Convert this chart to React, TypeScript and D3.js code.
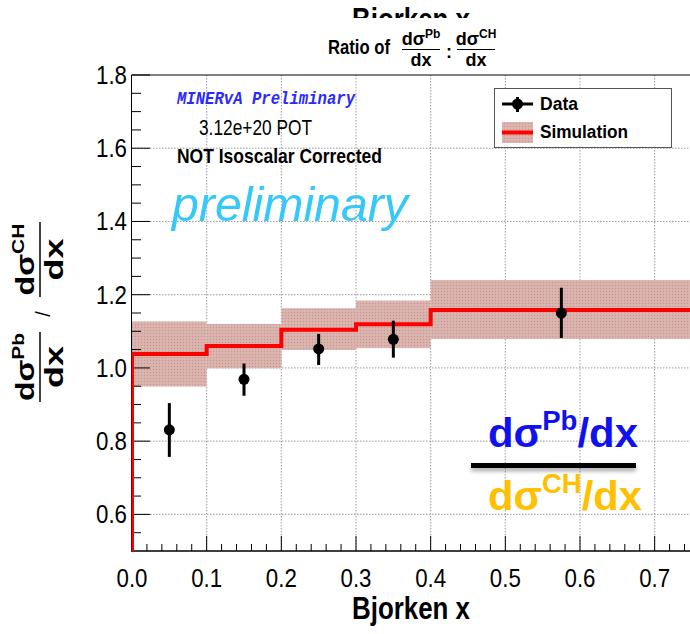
import React from "react";
import * as d3 from "d3";

const W = 690;
const H = 634;

// ---- data ----
const binEdges = [0, 0.1, 0.2, 0.3, 0.4, 0.75];
const dataX = [0.05, 0.15, 0.25, 0.35, 0.575];
const dataY = [0.831, 0.969, 1.052, 1.078, 1.15];
const dataLo = [0.757, 0.924, 1.008, 1.028, 1.082];
const dataHi = [0.904, 1.012, 1.093, 1.129, 1.219];
const simY = [1.038, 1.06, 1.104, 1.119, 1.158];
const simLo = [0.949, 0.999, 1.049, 1.054, 1.079];
const simHi = [1.127, 1.12, 1.163, 1.184, 1.24];
const xTickLabels = ["0.0", "0.1", "0.2", "0.3", "0.4", "0.5", "0.6", "0.7"];
const yTickLabels = ["0.6", "0.8", "1.0", "1.2", "1.4", "1.6", "1.8"];

const FONT = "'Liberation Sans', Arial, Helvetica, sans-serif";

export default function App() {
  const x = d3.scaleLinear().domain([0, 0.75]).range([132, 692]);
  const y = d3.scaleLinear().domain([0.5, 1.8]).range([551, 75]);
  const x0 = x(0);
  const yBot = y(0.5);
  const yTop = y(1.8);

  const xMajor = xTickLabels.map((t) => +t);
  const xMinor = d3.range(0, 0.76, 0.02).filter((v) => Math.abs(v * 10 - Math.round(v * 10)) > 1e-6);
  const yMajor = yTickLabels.map((t) => +t);
  const yMinor = d3.range(0.55, 1.8, 0.05).filter((v) => Math.abs(v * 5 - Math.round(v * 5)) > 1e-6);

  const stepPts: [number, number][] = [[0, 0.5]];
  simY.forEach((v, i) => stepPts.push([binEdges[i], v]));
  stepPts.push([binEdges[binEdges.length - 1], simY[simY.length - 1]]);
  const stepLine = d3
    .line<[number, number]>()
    .x((d) => x(d[0]))
    .y((d) => y(d[1]))
    .curve(d3.curveStepAfter)(stepPts) as string;

  return (
    <svg
      width={W}
      height={H}
      style={{ position: "absolute", left: 0, top: 0, background: "#fff" }}
      fontFamily={FONT}
    >
      <defs>
        <pattern id="hatch" width="3" height="3" patternUnits="userSpaceOnUse">
          <rect width="3" height="3" fill="#d9b1aa" />
          <rect width="1" height="1" fill="#c99891" />
          <rect x="1.5" y="1.5" width="1" height="1" fill="#e2c3be" />
        </pattern>
        <clipPath id="plotClip">
          <rect x={x0 - 0.5} y={yTop} width={W} height={yBot - yTop} />
        </clipPath>
        <filter id="shadow" filterUnits="userSpaceOnUse" x="460" y="455" width="190" height="25">
          <feDropShadow dx="0" dy="3" stdDeviation="2" floodColor="#000" floodOpacity="0.35" />
        </filter>
      </defs>

      {/* top clipped axis title */}
      <text x={411} y={30} fontSize={32} fontWeight="bold" textAnchor="middle" textLength={118} lengthAdjust="spacingAndGlyphs">
        Bjorken x
      </text>
      <rect x={300} y={18} width={230} height={55} fill="#fff" />

      {/* title */}
      <g fontWeight="bold">
        <text x={328} y={54} fontSize={20} textLength={62} lengthAdjust="spacingAndGlyphs">Ratio of</text>
        <text x={421} y={45} fontSize={18} textAnchor="middle">
          dσ<tspan fontSize={12} dy={-7}>Pb</tspan>
        </text>
        <line x1={402} x2={440} y1={49.5} y2={49.5} stroke="#000" strokeWidth={1.2} />
        <text x={421} y={66} fontSize={18} textAnchor="middle">dx</text>
        <text x={449} y={58} fontSize={18} textAnchor="middle">:</text>
        <text x={476} y={45} fontSize={18} textAnchor="middle">
          dσ<tspan fontSize={12} dy={-7}>CH</tspan>
        </text>
        <line x1={457} x2={495} y1={49.5} y2={49.5} stroke="#000" strokeWidth={1.2} />
        <text x={476} y={66} fontSize={18} textAnchor="middle">dx</text>
      </g>

      {/* grid */}
      <g stroke="#9a9a9a" strokeWidth={1} strokeDasharray="1.5 1.5">
        {xMajor.filter((v) => v > 0).map((v) => (
          <line key={"gx" + v} x1={x(v)} x2={x(v)} y1={yTop} y2={yBot} />
        ))}
        {yMajor.filter((v) => v < 1.8).map((v) => (
          <line key={"gy" + v} x1={x0} x2={W} y1={y(v)} y2={y(v)} />
        ))}
      </g>

      {/* simulation band */}
      <g clipPath="url(#plotClip)">
        {simY.map((_, i) => (
          <rect
            key={"b" + i}
            x={x(binEdges[i])}
            width={x(binEdges[i + 1]) - x(binEdges[i])}
            y={y(simHi[i])}
            height={y(simLo[i]) - y(simHi[i])}
            fill="url(#hatch)"
          />
        ))}
      </g>

      {/* axes frame */}
      <line x1={x0 - 0.5} x2={x0 - 0.5} y1={yTop} y2={yBot} stroke="#000" strokeWidth={1} />
      <line x1={x0 - 0.5} x2={W} y1={yTop} y2={yTop} stroke="#000" strokeWidth={1.2} />
      <line x1={x0 - 1} x2={W} y1={yBot} y2={yBot} stroke="#000" strokeWidth={1.5} />

      {/* ticks */}
      <g stroke="#000" strokeWidth={1}>
        {yMajor.map((v) => (
          <line key={"ymj" + v} x1={x0} x2={x0 + 18} y1={y(v)} y2={y(v)} />
        ))}
        {yMinor.map((v) => (
          <line key={"ymn" + v} x1={x0} x2={x0 + 9} y1={y(v)} y2={y(v)} />
        ))}
        {xMajor.map((v) => (
          <line key={"xmj" + v} x1={x(v)} x2={x(v)} y1={yBot} y2={yBot - 15} />
        ))}
        {xMinor.map((v) => (
          <line key={"xmn" + v} x1={x(v)} x2={x(v)} y1={yBot} y2={yBot - 7} />
        ))}
      </g>

      {/* tick labels */}
      <g fontSize={25}>
        {yTickLabels.map((t) => (
          <text key={"yl" + t} x={127} y={y(+t) + 9} textAnchor="end" textLength={31} lengthAdjust="spacingAndGlyphs">
            {t}
          </text>
        ))}
        {xTickLabels.map((t) => (
          <text key={"xl" + t} x={x(+t)} y={587} textAnchor="middle" textLength={31} lengthAdjust="spacingAndGlyphs">
            {t}
          </text>
        ))}
      </g>

      {/* simulation line */}
      <g clipPath="url(#plotClip)">
        <path d={stepLine} fill="none" stroke="#ff0000" strokeWidth={4} />
      </g>

      {/* data points */}
      <g>
        {dataX.map((v, i) => (
          <g key={"d" + i}>
            <line x1={x(v)} x2={x(v)} y1={y(dataLo[i])} y2={y(dataHi[i])} stroke="#000" strokeWidth={3} />
            <circle cx={x(v)} cy={y(dataY[i])} r={5.5} fill="#000" />
          </g>
        ))}
      </g>

      {/* annotations */}
      <text
        x={177}
        y={104}
        fontFamily="'Liberation Mono', 'Courier New', monospace"
        fontWeight="bold"
        fontStyle="italic"
        fontSize={19}
        fill="#2a2aff"
        textLength={178}
        lengthAdjust="spacingAndGlyphs"
      >
        MINERvA Preliminary
      </text>
      <text x={199} y={135} fontSize={22} textLength={113} lengthAdjust="spacingAndGlyphs">3.12e+20 POT</text>
      <text x={177} y={163} fontSize={21} fontWeight="bold" textLength={205} lengthAdjust="spacingAndGlyphs">
        NOT Isoscalar Corrected
      </text>
      <text x={172} y={221} fontSize={48} fontStyle="italic" fill="#36c8f8" textLength={236} lengthAdjust="spacingAndGlyphs">
        preliminary
      </text>

      {/* legend */}
      <rect x={494.5} y={88.5} width={177} height={59} fill="#fff" stroke="#555" strokeWidth={1} />
      <line x1={502} x2={533} y1={104} y2={104} stroke="#000" strokeWidth={3} />
      <line x1={517.5} x2={517.5} y1={97} y2={112} stroke="#000" strokeWidth={3} />
      <circle cx={517.5} cy={104} r={5.5} fill="#000" />
      <text x={540} y={110} fontSize={18} fontWeight="bold" textLength={38} lengthAdjust="spacingAndGlyphs">Data</text>
      <rect x={502} y={122} width={31} height={21} fill="url(#hatch)" />
      <line x1={502} x2={533} y1={132.5} y2={132.5} stroke="#ff0000" strokeWidth={4} />
      <text x={540} y={138} fontSize={18} fontWeight="bold" textLength={88} lengthAdjust="spacingAndGlyphs">Simulation</text>

      {/* big fraction */}
      <text x={488} y={447} fontSize={41} fontWeight="bold" fill="#1111ee" textLength={150} lengthAdjust="spacingAndGlyphs">
        dσ<tspan fontSize={27} dy={-17}>Pb</tspan>
        <tspan dy={17}>/dx</tspan>
      </text>
      <rect x={471} y={463} width={165} height={5} fill="#000" filter="url(#shadow)" />
      <text x={488} y={510} fontSize={41} fontWeight="bold" fill="#ffc000" textLength={154} lengthAdjust="spacingAndGlyphs">
        dσ<tspan fontSize={27} dy={-17}>CH</tspan>
        <tspan dy={17}>/dx</tspan>
      </text>

      {/* y axis title */}
      <g transform="translate(40,316) rotate(-90)" fontWeight="bold" fontSize={26}>
        <text x={-51} y={-6} textAnchor="middle" textLength={68} lengthAdjust="spacingAndGlyphs">
          dσ<tspan fontSize={17} dy={-10}>Pb</tspan>
        </text>
        <line x1={-86} x2={-16} y1={0} y2={0} stroke="#000" strokeWidth={1.5} />
        <text x={-51} y={23} textAnchor="middle" textLength={42} lengthAdjust="spacingAndGlyphs">dx</text>
        <text x={2} y={10} textAnchor="middle" fontWeight="normal" fontSize={20}>/</text>
        <text x={56.5} y={-6} textAnchor="middle" textLength={72} lengthAdjust="spacingAndGlyphs">
          dσ<tspan fontSize={17} dy={-10}>CH</tspan>
        </text>
        <line x1={19} x2={94} y1={0} y2={0} stroke="#000" strokeWidth={1.5} />
        <text x={56.5} y={23} textAnchor="middle" textLength={42} lengthAdjust="spacingAndGlyphs">dx</text>
      </g>

      {/* x axis title */}
      <text x={411} y={619} fontSize={32} fontWeight="bold" textAnchor="middle" textLength={118} lengthAdjust="spacingAndGlyphs">
        Bjorken x
      </text>
    </svg>
  );
}
